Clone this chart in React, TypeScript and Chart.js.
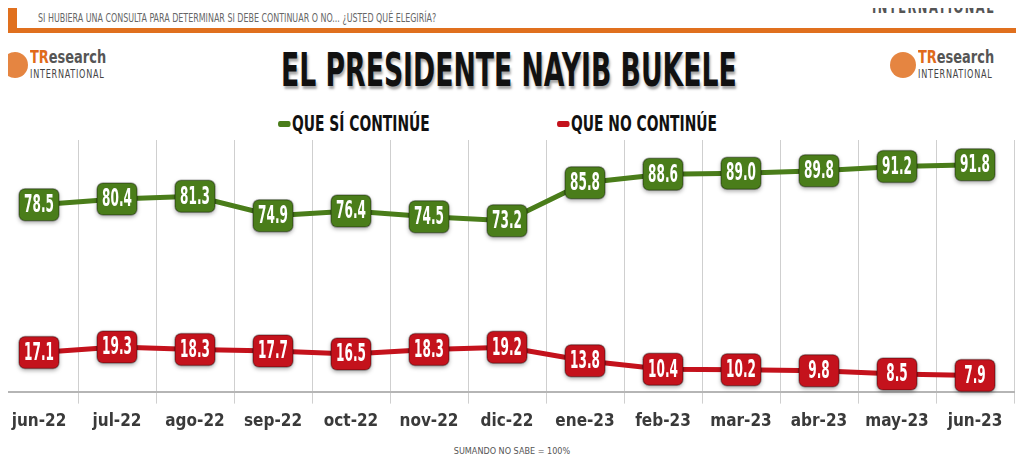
import React, { useEffect, useRef } from "react";
import { Chart, registerables } from "chart.js";
Chart.register(...registerables);

const categories = ["jun-22","jul-22","ago-22","sep-22","oct-22","nov-22","dic-22","ene-23","feb-23","mar-23","abr-23","may-23","jun-23"];
const siValues = [78.5,80.4,81.3,74.9,76.4,74.5,73.2,85.8,88.6,89.0,89.8,91.2,91.8];
const noValues = [17.1,19.3,18.3,17.7,16.5,18.3,19.2,13.8,10.4,10.2,9.8,8.5,7.9];

const GREEN = "#4a7d1a";
const RED = "#c4121c";
const FONT = "'DejaVu Sans Condensed', 'DejaVu Sans', sans-serif";

const boxPlugin = {
  id: "boxes",
  afterDatasetsDraw(chart: any) {
    const ctx = chart.ctx;
    chart.data.datasets.forEach((ds: any, i: number) => {
      const meta = chart.getDatasetMeta(i);
      meta.data.forEach((pt: any, j: number) => {
        const w = 40, h = 32;
        const x = pt.x - w / 2, y = pt.y - h / 2;
        ctx.save();
        ctx.shadowColor = "rgba(0,0,0,0.35)";
        ctx.shadowBlur = 4;
        ctx.shadowOffsetY = 2;
        ctx.fillStyle = ds.borderColor;
        ctx.beginPath();
        (ctx as any).roundRect(x, y, w, h, 6);
        ctx.fill();
        ctx.shadowColor = "transparent";
        ctx.lineWidth = 1.5;
        ctx.strokeStyle = "rgba(0,0,0,0.3)";
        ctx.stroke();
        ctx.fillStyle = "#fff";
        ctx.font = `bold 24px ${FONT}`;
        ctx.textAlign = "center";
        ctx.textBaseline = "middle";
        ctx.translate(pt.x, pt.y + 1);
        ctx.scale(0.56, 1);
        ctx.fillText(ds.data[j].toFixed(1), 0, 0);
        ctx.restore();
      });
    });
  },
};

function Logo({ left }: { left: number }) {
  return (
    <div style={{ position: "absolute", left, top: 46, width: 120, height: 36, fontFamily: FONT }}>
      <div style={{ position: "absolute", left: 0, top: 6, width: 26, height: 26, borderRadius: 13, background: "#e07020", opacity: 0.85 }} />
      <div style={{ position: "absolute", left: 28, top: 0, fontSize: 18, fontWeight: "bold", color: "#555", transform: "scaleX(0.8)", transformOrigin: "left" }}>
        <span style={{ color: "#e06a1a" }}>TR</span>esearch
      </div>
      <div style={{ position: "absolute", left: 28, top: 21, fontSize: 12, color: "#444", letterSpacing: 1, transform: "scaleX(0.75)", transformOrigin: "left" }}>INTERNATIONAL</div>
    </div>
  );
}

const narrow = (s: number): React.CSSProperties => ({ transform: `scaleX(${s})`, transformOrigin: "left", whiteSpace: "nowrap" });

export default function App() {
  const ref = useRef<HTMLCanvasElement>(null);
  useEffect(() => {
    const chart = new Chart(ref.current!, {
      type: "line",
      data: {
        labels: categories,
        datasets: [
          { label: "QUE SÍ CONTINÚE", data: siValues, borderColor: GREEN, borderWidth: 5, pointRadius: 0, yAxisID: "y", tension: 0 },
          { label: "QUE NO CONTINÚE", data: noValues, borderColor: RED, borderWidth: 5, pointRadius: 0, yAxisID: "y2", tension: 0 },
        ],
      },
      options: {
        animation: false,
        responsive: false,
        layout: { padding: { top: 140, left: 0, right: 10, bottom: 0 } },
        plugins: { legend: { display: false }, tooltip: { enabled: false } },
        scales: {
          x: {
            offset: true,
            grid: { offset: true, color: "#cfcfcf", lineWidth: 1, drawTicks: true, tickLength: 12 },
            border: { color: "#b5b5b5", width: 2 },
            ticks: { color: "#3a3a3a", font: { family: FONT, size: 17, weight: "bold" }, padding: 8, maxRotation: 0, autoSkip: false },
          },
          y: { display: false, min: 16.5, max: 100 },
          y2: { display: false, min: 1.5, max: 102 },
        },
      },
      plugins: [boxPlugin],
    });
    return () => chart.destroy();
  }, []);
  return (
    <div style={{ position: "relative", width: 1024, height: 463, margin: -8, background: "#fff", overflow: "hidden", fontFamily: FONT }}>
      <div style={{ position: "absolute", left: 0, top: 0, width: 1024, height: 5, background: "#333" }} />
      <div style={{ position: "absolute", left: 0, top: 5, width: 17, height: 28, background: "#e0701e" }} />
      <div style={{ position: "absolute", left: 0, top: 28, width: 1024, height: 5, background: "#e0701e" }} />
      <div style={{ position: "absolute", left: 38, top: 10, fontSize: 13, color: "#666", ...narrow(0.68) }}>SI HUBIERA UNA CONSULTA PARA DETERMINAR SI DEBE CONTINUAR O NO... ¿USTED QUÉ ELEGIRÍA?</div>
      <div style={{ position: "absolute", left: 872, top: -3, fontSize: 17, fontWeight: "bold", color: "#555", letterSpacing: 2, ...narrow(0.75) }}>INTERNATIONAL</div>
      <Logo left={2} />
      <Logo left={890} />
      <div style={{ position: "absolute", left: 281, top: 43, fontSize: 46, fontWeight: "bold", color: "#111", textShadow: "2px 3px 3px rgba(0,0,0,0.35)", ...narrow(0.645) }}>EL PRESIDENTE NAYIB BUKELE</div>
      <div style={{ position: "absolute", left: 278, top: 111, fontSize: 22, fontWeight: "bold", color: "#111", display: "flex", alignItems: "center", ...narrow(0.7) }}>
        <span style={{ display: "inline-block", width: 18, height: 6, borderRadius: 3, background: GREEN, marginRight: 2 }} />QUE SÍ CONTINÚE
      </div>
      <div style={{ position: "absolute", left: 557, top: 111, fontSize: 22, fontWeight: "bold", color: "#111", display: "flex", alignItems: "center", ...narrow(0.7) }}>
        <span style={{ display: "inline-block", width: 18, height: 6, borderRadius: 3, background: RED, marginRight: 2 }} />QUE NO CONTINÚE
      </div>
      <canvas ref={ref} width={1024} height={440} style={{ position: "absolute", left: 0, top: 0 }} />
      <div style={{ position: "absolute", left: 0, width: 1024, top: 446, textAlign: "center", fontSize: 9, color: "#555" }}>SUMANDO NO SABE = 100%</div>
    </div>
  );
}
